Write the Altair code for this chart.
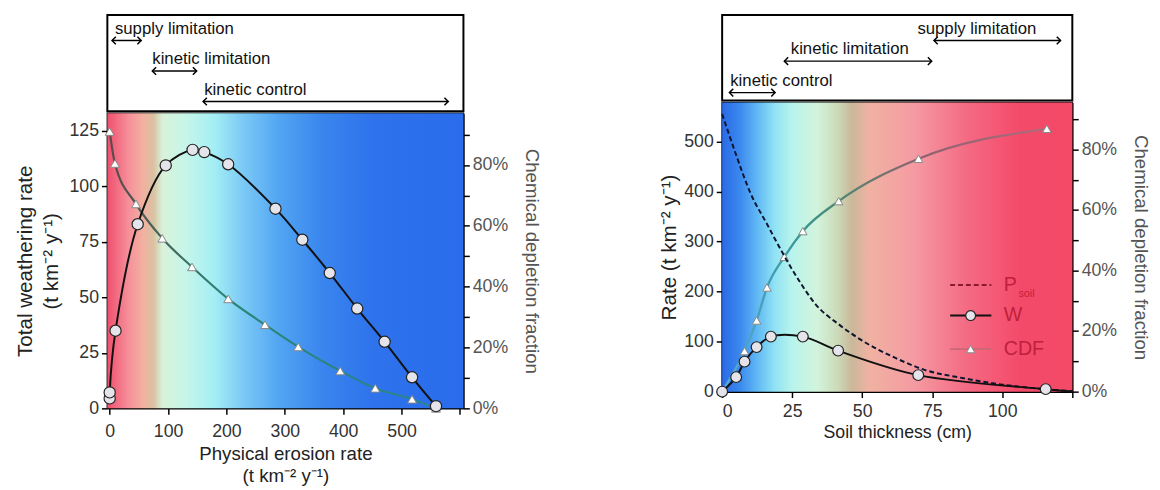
import altair as alt
import pandas as pd

# ---------------- Left panel data (erosion-rate view) ----------------
erosion_w = [0, 0, 10, 48, 96, 142, 162, 203, 284, 330, 377, 424, 471, 518, 559]
weathering_w = [4.5, 7.2, 35, 83, 109.5, 116.5, 115.5, 110, 90, 76, 61, 45, 30, 14, 1]
erosion_cdf = [0, 9, 45, 90, 141, 203, 266, 323, 395, 455, 518, 559]
cdf_left = [0.91, 0.805, 0.672, 0.559, 0.465, 0.36, 0.275, 0.202, 0.123, 0.066, 0.03, 0.0]

left_ann_labels = ["supply limitation", "kinetic limitation", "kinetic control"]
left_ann_start = [4, 73, 160]
left_ann_end = [54, 149, 580]
left_ann_text = [9, 73, 162]
left_ann_row = [1, 2, 3]

# ---------------- Right panel data (soil-thickness view) ----------------
soil_w = [0, 5, 8, 12.3, 17.4, 28.8, 41.4, 70, 115.5, 125]
rate_w = [0, 29, 60, 89, 110, 110, 82, 33, 5, 0.5]
w_marker = [True, True, True, True, True, True, True, True, True, False]
soil_cdf = [0, 8, 12.3, 16, 22.2, 28.8, 41.6, 70.1, 115.9]
cdf_right = [0, 0.134, 0.235, 0.344, 0.445, 0.53, 0.629, 0.769, 0.868]
soil_p = [0, 5, 10, 16, 22, 28, 33, 42, 50, 62, 72, 85, 100, 115, 125]
p_soil = [555, 473, 398, 335, 273, 217, 177, 133, 102, 67, 44, 28, 14, 5, 1]

right_ann_labels = ["supply limitation", "kinetic limitation", "kinetic control"]
right_ann_start = [75.6, 22.2, 2.6]
right_ann_end = [120.8, 74.8, 18.9]
right_ann_text = [69.7, 24.5, 2.9]
right_ann_row = [1, 2, 3]

legend_labels = ["P", "W", "CDF"]
legend_rate = [213, 152, 85]

# ---------------- layout / style ----------------
FONT = "Liberation Sans"
WL, HL, BL = 362, 300, 98
WR, HR, BR = 356, 294, 87
LEG_X0, LEG_X1, LEG_XM, LEG_XT = 81.4, 96.1, 88.7, 100.5

left_stops = [(0.0, "#f0506e"), (0.06, "#f5909a"), (0.1, "#f3b0a0"), (0.13, "#d8c2a2"),
              (0.155, "#d8f2da"), (0.22, "#c6f6ea"), (0.3, "#a4eef4"), (0.38, "#7ccaf6"),
              (0.48, "#52a6f2"), (0.6, "#3a86ee"), (0.75, "#2e72ec"), (1.0, "#2a6cec")]
right_stops = [(0.0, "#2a6ae6"), (0.05, "#3a88ee"), (0.1, "#60b8f4"), (0.15, "#90e2f4"),
               (0.2, "#b8f4ec"), (0.27, "#d2f4dc"), (0.33, "#ccdab8"), (0.37, "#cab89a"),
               (0.42, "#f0b2a2"), (0.55, "#f59aa2"), (0.7, "#f46a82"), (0.85, "#f44a6a"),
               (1.0, "#f44a68")]
cdf_left_stroke = [(0.0, "#5a4a4c"), (0.12, "#4a6058"), (0.35, "#2a8474"), (1.0, "#2a8490")]
cdf_right_stroke = [(0.0, "#5aaad8"), (0.2, "#3a9aa4"), (0.35, "#4a8a72"), (0.6, "#8e6270"),
                    (1.0, "#b06a7a")]


def lin_grad(stops):
    return alt.LinearGradient(
        gradient="linear", x1=0, x2=1, y1=0, y2=0,
        stops=[alt.GradientStop(offset=o, color=c) for o, c in stops])


PCT_EXPR = "round(datum.value*10) % 2 == 0 ? format(datum.value, '.0%') : ''"


def pct_axis():
    return alt.Axis(orient="right", values=[i / 10 for i in range(10)], labelExpr=PCT_EXPR,
                    title="Chemical depletion fraction", labelColor="#555",
                    titleColor="#555", titlePadding=14, titleFontSize=19)


def box_chart(labels, start, end, textx, rows, xscale, rows_range, w, h):
    df = pd.DataFrame({"label": labels, "start": start, "end": end, "tx": textx, "row": rows})
    base = alt.Chart(df)
    yrow = alt.Y("row:Q", scale=alt.Scale(domain=[1, 2, 3], range=rows_range), axis=None)
    rule = base.mark_rule(color="black", strokeWidth=1.5).encode(
        x=alt.X("start:Q", scale=xscale, axis=None), x2="end:Q", y=yrow)
    lh = base.mark_point(shape="M1,-1L0,0L1,1", filled=False, color="black",
                         strokeWidth=1.5, size=60, opacity=1).encode(
        x=alt.X("start:Q", scale=xscale, axis=None), y=yrow)
    rh = base.mark_point(shape="M-1,-1L0,0L-1,1", filled=False, color="black",
                         strokeWidth=1.5, size=60, opacity=1).encode(
        x=alt.X("end:Q", scale=xscale, axis=None), y=yrow)
    txt = base.mark_text(align="left", baseline="middle", dy=-12, fontSize=17,
                         color="#111", font=FONT).encode(
        x=alt.X("tx:Q", scale=xscale, axis=None), y=yrow, text="label:N")
    return alt.layer(rule, lh, rh, txt).properties(
        width=w, height=h,
        view=alt.ViewBackground(fill="white", stroke="black", strokeWidth=2))


one = pd.DataFrame({"k": [0]})

# ================= LEFT PANEL =================
xl_scale = alt.Scale(domain=[-4, 606], nice=False, zero=False)
xl_axis = alt.Axis(values=list(range(0, 601, 100)),
                   labelExpr="datum.value >= 600 ? '' : datum.label",
                   title=["Physical erosion rate", "(t km⁻² y⁻¹)"], titleLineHeight=22,
                   titleFontSize=19, titlePadding=4, labelPadding=9)
yl_scale = alt.Scale(domain=[0, 133], nice=False, zero=False)
yl_axis = alt.Axis(orient="left", values=[0, 25, 50, 75, 100, 125],
                   title=["Total weathering rate", "(t km⁻² y⁻¹)"], titleLineHeight=26,
                   titleFontSize=21, titlePadding=8)
cl_scale = alt.Scale(domain=[0, 0.97], nice=False, zero=False)

df_wl = pd.DataFrame({"x": erosion_w, "y": weathering_w, "i": range(len(erosion_w))})
df_cl = pd.DataFrame({"x": erosion_cdf, "c": cdf_left, "i": range(len(erosion_cdf))})

bg_l = alt.Chart(one).mark_rect(fill=lin_grad(left_stops), strokeWidth=0).encode(
    x=alt.value(0), x2=alt.value(WL), y=alt.value(0), y2=alt.value(HL))

XL = alt.X("x:Q", scale=xl_scale, axis=xl_axis)
YCL = alt.Y("c:Q", scale=cl_scale, axis=pct_axis())
YWL = alt.Y("y:Q", scale=yl_scale, axis=yl_axis)

cdf_l_line = alt.Chart(df_cl).mark_line(stroke=lin_grad(cdf_left_stroke), strokeWidth=2.2,
                                        interpolate="monotone").encode(x=XL, y=YCL, order="i:Q")
cdf_l_pts = alt.Chart(df_cl).mark_point(shape="triangle-up", filled=True, fill="white",
                                        stroke="#888", strokeWidth=1, size=80,
                                        opacity=1).encode(x=XL, y=YCL)
w_l_line = alt.Chart(df_wl).mark_line(color="#111", strokeWidth=2,
                                      interpolate="catmull-rom").encode(x=XL, y=YWL, order="i:Q")
w_l_pts = alt.Chart(df_wl).mark_point(shape="circle", filled=True, fill="#e4e4ea",
                                      stroke="#222", strokeWidth=1.2, size=130,
                                      opacity=1).encode(x=XL, y=YWL)

plot_l = alt.layer(bg_l, alt.layer(cdf_l_line, cdf_l_pts), alt.layer(w_l_line, w_l_pts)
                   ).resolve_scale(y="independent").properties(width=WL, height=HL)
box_l = box_chart(left_ann_labels, left_ann_start, left_ann_end, left_ann_text,
                  left_ann_row, xl_scale, [26, 57, 88], WL, BL)
left_panel = alt.vconcat(box_l, plot_l, spacing=0)

# ================= RIGHT PANEL =================
xr_scale = alt.Scale(domain=[0, 125], nice=False, zero=False)
xr_axis = alt.Axis(values=[0, 25, 50, 75, 100, 125],
                   labelExpr="datum.value >= 125 ? '' : datum.label",
                   title="Soil thickness (cm)", titlePadding=4, labelPadding=5)
yr_scale = alt.Scale(domain=[0, 578], nice=False, zero=False)
yr_axis = alt.Axis(orient="left", values=[0, 100, 200, 300, 400, 500],
                   title="Rate (t km⁻² y⁻¹)", titlePadding=4, titleFontSize=21)
cr_scale = alt.Scale(domain=[0, 0.955], nice=False, zero=False)

df_wr = pd.DataFrame({"x": soil_w, "y": rate_w, "m": w_marker, "i": range(len(soil_w))})
df_cr = pd.DataFrame({"x": soil_cdf, "c": cdf_right, "i": range(len(soil_cdf))})
df_p = pd.DataFrame({"x": soil_p, "y": p_soil, "i": range(len(soil_p))})
df_leg = pd.DataFrame({"label": legend_labels, "y": legend_rate,
                       "x0": [LEG_X0] * 3, "x1": [LEG_X1] * 3, "xm": [LEG_XM] * 3,
                       "xt": [LEG_XT] * 3})

XR = alt.X("x:Q", scale=xr_scale, axis=xr_axis)
YCR = alt.Y("c:Q", scale=cr_scale, axis=pct_axis())
YWR = alt.Y("y:Q", scale=yr_scale, axis=yr_axis)

bg_r = alt.Chart(one).mark_rect(fill=lin_grad(right_stops), strokeWidth=0).encode(
    x=alt.value(0), x2=alt.value(WR), y=alt.value(0), y2=alt.value(HR))

cdf_r_line = alt.Chart(df_cr).mark_line(stroke=lin_grad(cdf_right_stroke), strokeWidth=2.4,
                                        interpolate="monotone").encode(x=XR, y=YCR, order="i:Q")
cdf_r_pts = alt.Chart(df_cr).mark_point(shape="triangle-up", filled=True, fill="white",
                                        stroke="#888", strokeWidth=1, size=75,
                                        opacity=1).encode(x=XR, y=YCR)
p_line = alt.Chart(df_p).mark_line(color="#0d1530", strokeWidth=2, strokeDash=[5, 3],
                                   interpolate="monotone").encode(x=XR, y=YWR, order="i:Q")
w_r_line = alt.Chart(df_wr).mark_line(color="#111", strokeWidth=2,
                                      interpolate="catmull-rom").encode(x=XR, y=YWR, order="i:Q")
w_r_pts = alt.Chart(df_wr).transform_filter("datum.m").mark_point(
    shape="circle", filled=True, fill="#e4e4ea", stroke="#222", strokeWidth=1.2, size=120,
    opacity=1).encode(x=XR, y=YWR)

leg_base = alt.Chart(df_leg)
XL0 = alt.X("x0:Q", scale=xr_scale, axis=xr_axis)
leg_lines = leg_base.mark_rule(strokeWidth=2).encode(
    x=XL0, x2="x1:Q", y=YWR,
    color=alt.Color("label:N", scale=alt.Scale(domain=legend_labels,
                                               range=["#8a1a30", "#111111", "#c86878"]),
                    legend=None),
    strokeDash=alt.StrokeDash("label:N", scale=alt.Scale(domain=legend_labels,
                                                         range=[[5, 3], [1, 0], [1, 0]]),
                              legend=None))
leg_circle = leg_base.transform_filter("datum.label == 'W'").mark_point(
    shape="circle", filled=True, fill="#e4e4ea", stroke="#222", strokeWidth=1.2, size=100,
    opacity=1).encode(x=alt.X("xm:Q", scale=xr_scale, axis=xr_axis), y=YWR)
leg_tri = leg_base.transform_filter("datum.label == 'CDF'").mark_point(
    shape="triangle-up", filled=True, fill="white", stroke="#888", strokeWidth=1, size=75,
    opacity=1).encode(x=alt.X("xm:Q", scale=xr_scale, axis=xr_axis), y=YWR)
leg_text = leg_base.mark_text(align="left", baseline="middle", fontSize=20, color="#c0203c",
                              font=FONT).encode(
    x=alt.X("xt:Q", scale=xr_scale, axis=xr_axis), y=YWR, text="label:N")
leg_sub = leg_base.transform_filter("datum.label == 'P'").transform_calculate(
    sub="'soil'").mark_text(align="left", baseline="middle", fontSize=11, dx=15, dy=9,
                            color="#c0203c", font=FONT).encode(
    x=alt.X("xt:Q", scale=xr_scale, axis=xr_axis), y=YWR, text="sub:N")

plot_r = alt.layer(
    bg_r,
    alt.layer(cdf_r_line, cdf_r_pts),
    alt.layer(p_line, w_r_line, w_r_pts, leg_lines, leg_circle, leg_tri, leg_text, leg_sub),
).resolve_scale(y="independent").properties(width=WR, height=HR)
box_r = box_chart(right_ann_labels, right_ann_start, right_ann_end, right_ann_text,
                  right_ann_row, xr_scale, [26, 47, 79], WR, BR)
right_panel = alt.vconcat(box_r, plot_r, spacing=0)

chart = alt.hconcat(left_panel, right_panel, spacing=119).properties(
    padding={"left": 6, "top": 2, "right": 2, "bottom": 2}, background="white"
).configure_view(stroke="black", strokeWidth=1.5).configure_axis(
    domainColor="black", domainWidth=1.5, tickColor="black", tickWidth=1.5, tickSize=6,
    labelFont=FONT, titleFont=FONT, labelFontSize=18, titleFontSize=18,
    titleFontWeight="normal", labelColor="#333", titleColor="#222", grid=False,
    labelPadding=3
).configure_text(font=FONT)

chart.save("out.html", embed_options={"renderer": "svg", "actions": False})
